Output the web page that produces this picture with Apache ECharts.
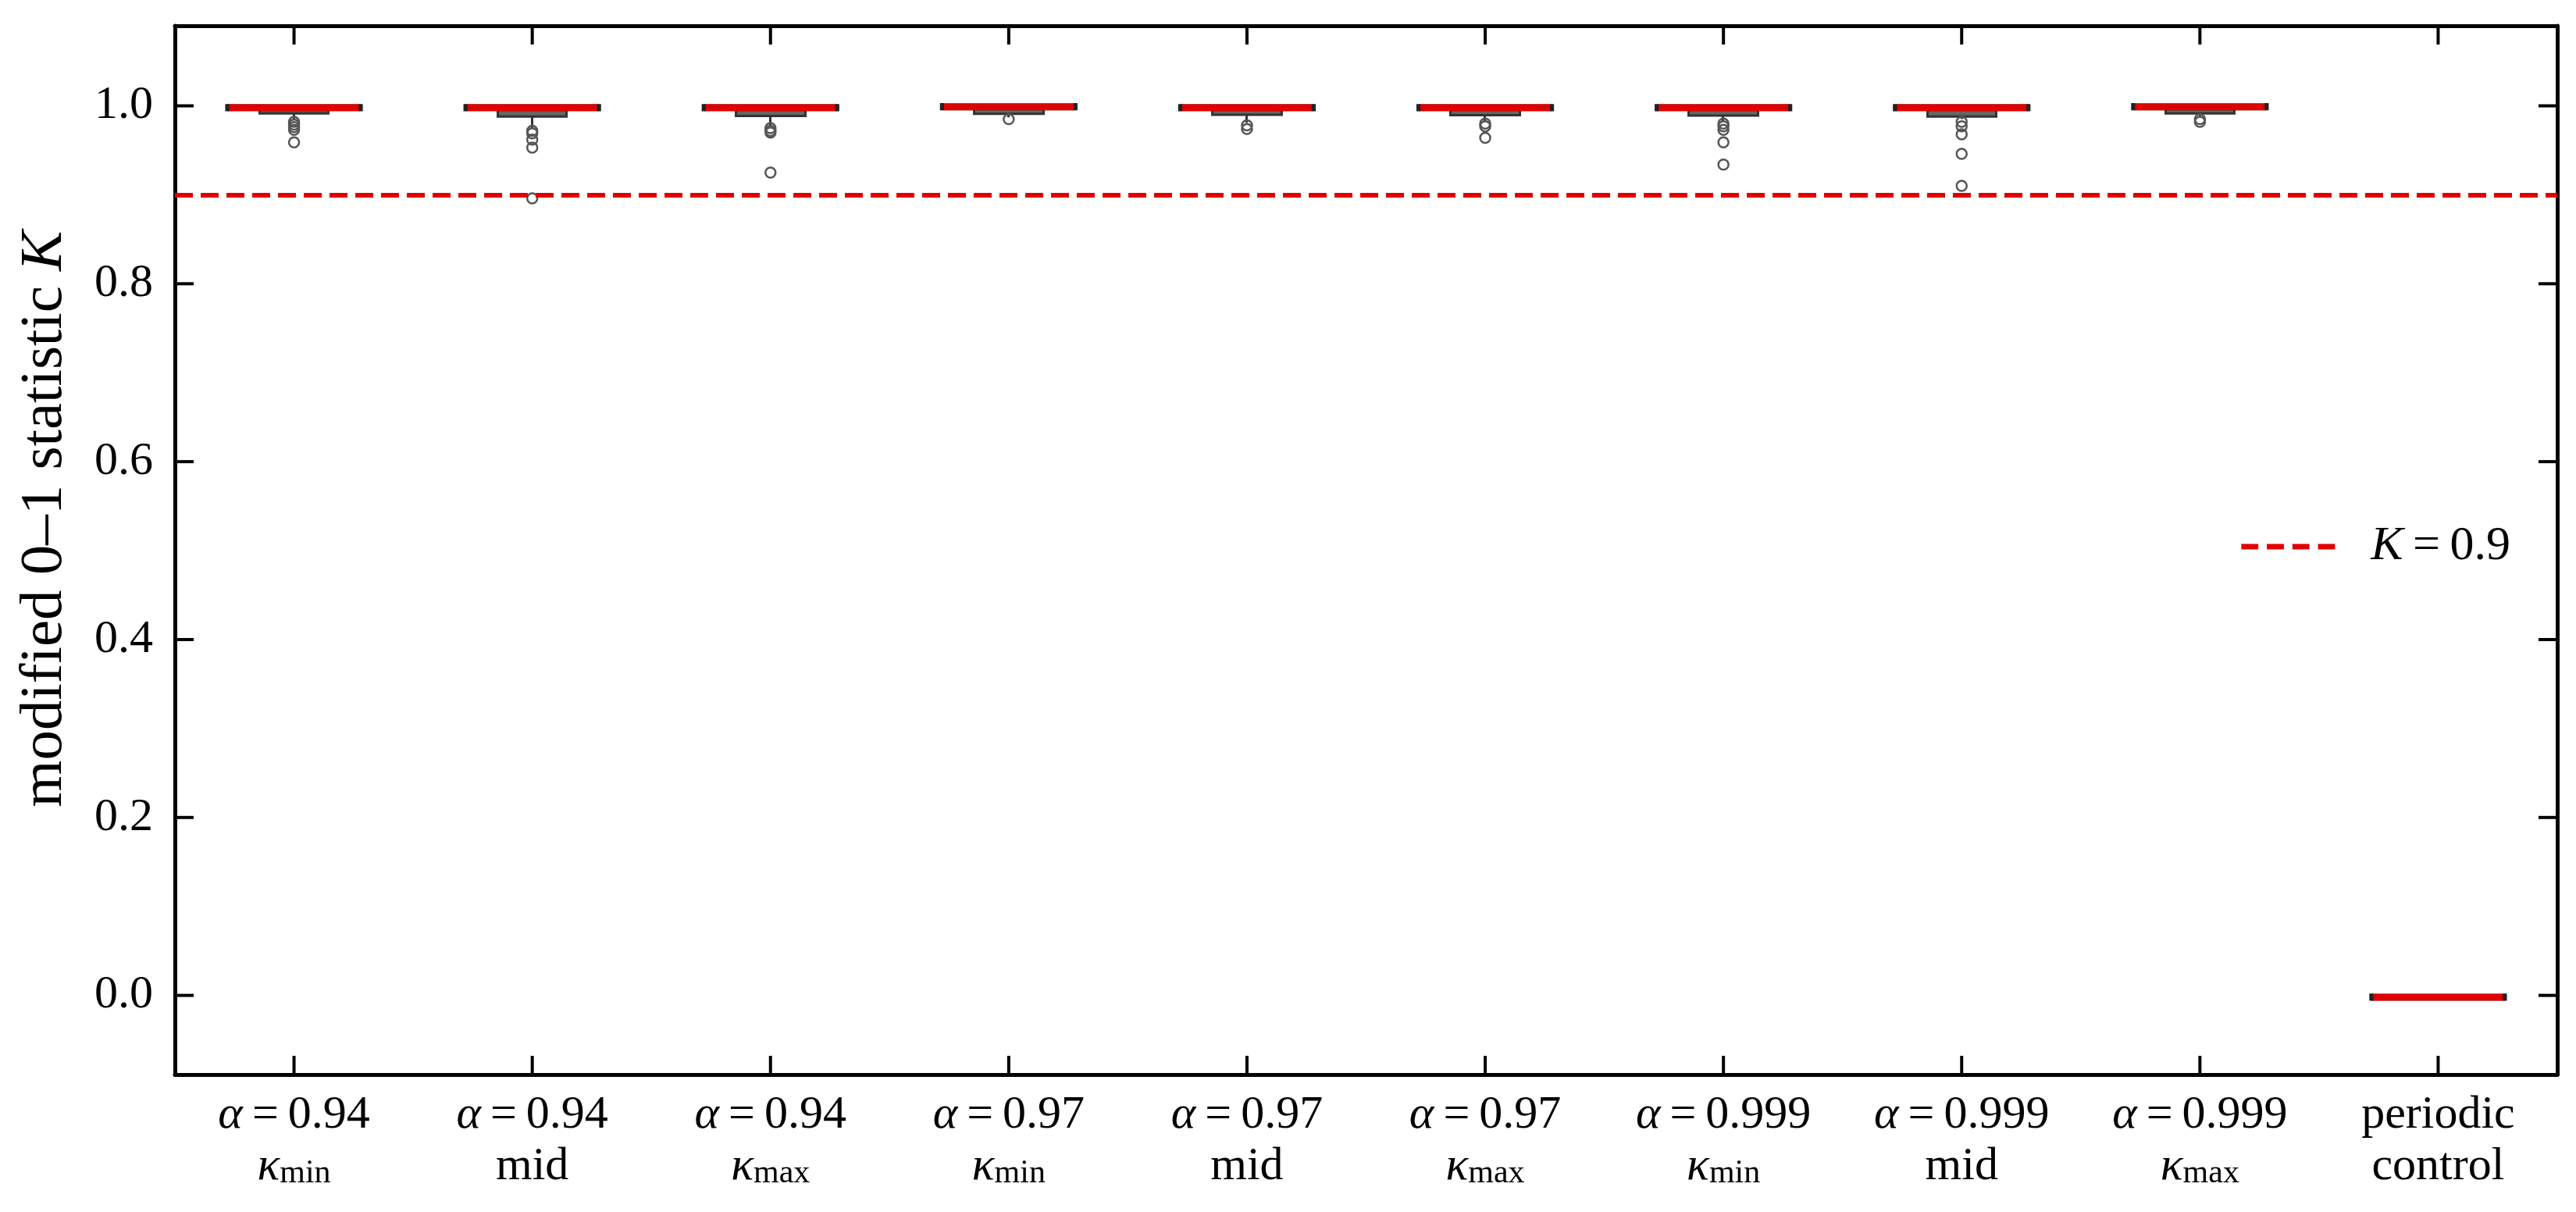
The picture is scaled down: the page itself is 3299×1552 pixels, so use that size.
<!DOCTYPE html>
<html>
<head>
<meta charset="utf-8">
<script src="https://cdn.jsdelivr.net/npm/echarts@6/dist/echarts.min.js"></script>
<style>
html, body { margin: 0; padding: 0; background: #fff; }
#myBoxChart { width: 3299px; height: 1552px; }
</style>
</head>
<body>
<div id="myBoxChart"></div>
<script>
// category parts: alpha value (null = periodic control) and kappa variant
const alphas = ['0.94', '0.94', '0.94', '0.97', '0.97', '0.97', '0.999', '0.999', '0.999', null];
const variants = ['min', 'mid', 'max', 'min', 'mid', 'max', 'min', 'mid', 'max', 'control'];
const yTicks = [0, 0.2, 0.4, 0.6, 0.8, 1.0];

// box statistics
const lowWhisker  = [0.984, 0.975, 0.977, 0.987, 0.981, 0.983, 0.982, 0.985, 0.988, -0.003];
const q1          = [0.9915, 0.988, 0.9885, 0.991, 0.990, 0.9895, 0.989, 0.988, 0.9915, -0.0025];
const median      = [0.998, 0.998, 0.998, 0.999, 0.998, 0.998, 0.998, 0.998, 0.999, -0.002];
const q3          = [1.0, 1.0, 1.0, 1.0, 1.0, 1.0, 1.0, 1.0, 1.0, -0.0015];
const highWhisker = [1.0, 1.0, 1.0, 1.0, 1.0, 1.0, 1.0, 1.0, 1.0, -0.001];
const outliers = [
  [0.982, 0.979, 0.976, 0.973, 0.959],
  [0.972, 0.969, 0.962, 0.953, 0.896],
  [0.975, 0.972, 0.970, 0.925],
  [0.985],
  [0.978, 0.974],
  [0.980, 0.977, 0.964],
  [0.980, 0.977, 0.973, 0.959, 0.934],
  [0.982, 0.977, 0.968, 0.946, 0.910],
  [0.985, 0.982],
  []
];
const threshold = 0.9;

const FONT = 'Liberation Serif';
const RED = '#e00000';
const TICK_LEN = 24;

let categories = alphas.map((a, i) => a === null ? 'periodic control' : 'α = ' + a + ' ' + variants[i]);
// candlestick order: open, close, lowest, highest -> box q1..q3 with whiskers, no caps
let boxData = categories.map((c, i) => [q3[i], q1[i], lowWhisker[i], highWhisker[i]]);
let medianData = median.map((m, i) => [i, m]);
let outlierData = [];
outliers.forEach((list, i) => list.forEach(v => outlierData.push([i, v])));

// inward tick marks on all four sides, placed through the axes' own scales
function renderXTick(params, api) {
  let cs = params.coordSys;
  let x = api.coord([api.value(0), 0])[0];
  let bottom = cs.y + cs.height;
  return {
    type: 'group',
    children: [
      {type: 'line', shape: {x1: x, y1: bottom, x2: x, y2: bottom - TICK_LEN}, style: {stroke: '#000', lineWidth: 4}},
      {type: 'line', shape: {x1: x, y1: cs.y, x2: x, y2: cs.y + TICK_LEN}, style: {stroke: '#000', lineWidth: 4}}
    ]
  };
}
function renderYTick(params, api) {
  let cs = params.coordSys;
  let y = api.coord([0, api.value(1)])[1];
  let right = cs.x + cs.width;
  return {
    type: 'group',
    children: [
      {type: 'line', shape: {x1: cs.x, y1: y, x2: cs.x + TICK_LEN, y2: y}, style: {stroke: '#000', lineWidth: 4}},
      {type: 'line', shape: {x1: right, y1: y, x2: right - TICK_LEN, y2: y}, style: {stroke: '#000', lineWidth: 4}}
    ]
  };
}

let labelRich = {
  t: {fontFamily: FONT, fontSize: 60, lineHeight: 66, color: '#000', verticalAlign: 'bottom'},
  a: {fontFamily: FONT, fontSize: 60, lineHeight: 66, color: '#000', fontStyle: 'italic', verticalAlign: 'bottom'},
  k: {fontFamily: FONT, fontSize: 60, lineHeight: 66, color: '#000', fontStyle: 'italic', verticalAlign: 'bottom'},
  s: {fontFamily: FONT, fontSize: 42, lineHeight: 38, color: '#000', padding: [30, 0, 0, 0], verticalAlign: 'bottom'}
};

let option = {
  animation: false,
  backgroundColor: '#fff',
  grid: {left: 224, right: 24, top: 33, bottom: 176},
  legend: {
    right: 79,
    top: 664,
    itemWidth: 120,
    itemHeight: 7,
    data: [{
      name: 'K = 0.9',
      icon: 'path://M0,0h22v7h-22z M33,0h22v7h-22z M66,0h22v7h-22z M99,0h22v7h-22z',
      itemStyle: {color: RED}
    }],
    formatter: () => '{i|K}{t|\u2009=\u20090.9}',
    textStyle: {
      padding: [0, 0, 0, 41],
      rich: {
        i: {fontFamily: FONT, fontSize: 62, fontStyle: 'italic', color: '#000'},
        t: {fontFamily: FONT, fontSize: 62, color: '#000'}
      }
    }
  },
  xAxis: [
    {
      type: 'category',
      data: categories,
      position: 'bottom',
      axisLine: {show: true, onZero: false, lineStyle: {color: '#000', width: 5}},
      axisTick: {show: false},
      axisLabel: {
        interval: 0,
        margin: 16,
        formatter: (value, idx) => {
          if (alphas[idx] === null) return '{t|periodic}\n{t|control}';
          let line2 = variants[idx] === 'mid' ? '{t|mid}' : '{k|κ}{s|' + variants[idx] + '}';
          return '{a|α}{t|\u2009=\u2009' + alphas[idx] + '}\n' + line2;
        },
        rich: labelRich
      },
      splitLine: {show: false}
    },
    {
      type: 'category',
      data: categories,
      position: 'top',
      axisLine: {show: true, onZero: false, lineStyle: {color: '#000', width: 5}},
      axisTick: {show: false},
      axisLabel: {show: false},
      splitLine: {show: false}
    }
  ],
  yAxis: [
    {
      type: 'value',
      min: -0.089,
      max: 1.090,
      position: 'left',
      name: '{t|modified 0–1 statistic }{i|K}',
      nameLocation: 'middle',
      nameRotate: 90,
      nameGap: 128,
      nameTextStyle: {
        padding: [0, 0, 0, 80],
        rich: {
          t: {fontFamily: FONT, fontSize: 77, color: '#000'},
          i: {fontFamily: FONT, fontSize: 77, color: '#000', fontStyle: 'italic'}
        }
      },
      axisLine: {show: true, onZero: false, lineStyle: {color: '#000', width: 5}},
      axisTick: {show: false},
      axisLabel: {
        customValues: yTicks,
        margin: 28,
        formatter: v => v.toFixed(1),
        fontFamily: FONT, fontSize: 60, color: '#000'
      },
      splitLine: {show: false}
    },
    {
      type: 'value',
      min: -0.089,
      max: 1.090,
      position: 'right',
      axisLine: {show: true, onZero: false, lineStyle: {color: '#000', width: 5}},
      axisTick: {show: false},
      axisLabel: {show: false},
      splitLine: {show: false}
    }
  ],
  series: [
    {
      name: 'K = 0.9',
      type: 'line',
      data: [],
      symbol: 'none',
      z: 1,
      lineStyle: {color: RED, width: 6, type: [23, 10]},
      itemStyle: {color: RED},
      markLine: {
        silent: true,
        symbol: ['none', 'none'],
        label: {show: false},
        lineStyle: {color: RED, width: 6, type: [23, 10]},
        data: [{yAxis: threshold}]
      }
    },
    {
      name: 'xTicks',
      type: 'custom',
      z: 1,
      silent: true,
      clip: false,
      renderItem: renderXTick,
      encode: {x: 0, y: 1},
      data: categories.map((c, i) => [i, 0])
    },
    {
      name: 'yTicks',
      type: 'custom',
      z: 1,
      silent: true,
      clip: false,
      renderItem: renderYTick,
      encode: {x: 0, y: 1},
      data: yTicks.map(v => [0, v])
    },
    {
      name: 'boxes',
      type: 'candlestick',
      z: 2,
      barWidth: 89,
      itemStyle: {
        color: '#666', color0: '#666',
        borderColor: '#333', borderColor0: '#333', borderColorDoji: '#333',
        borderWidth: 3
      },
      data: boxData
    },
    {
      name: 'outliers',
      type: 'scatter',
      z: 3,
      symbol: 'circle',
      symbolSize: 13,
      itemStyle: {color: 'rgba(255,255,255,0)', borderColor: '#555', borderWidth: 2.5, opacity: 1},
      data: outlierData
    },
    {
      name: 'medians',
      type: 'scatter',
      z: 4,
      symbol: 'rect',
      symbolSize: [171, 9],
      itemStyle: {color: RED, borderColor: '#222', borderWidth: 1.2, opacity: 1},
      data: medianData
    }
  ]
};

let myChart = echarts.init(document.querySelector('#myBoxChart'));
myChart.setOption(option);
</script>
</body>
</html>
